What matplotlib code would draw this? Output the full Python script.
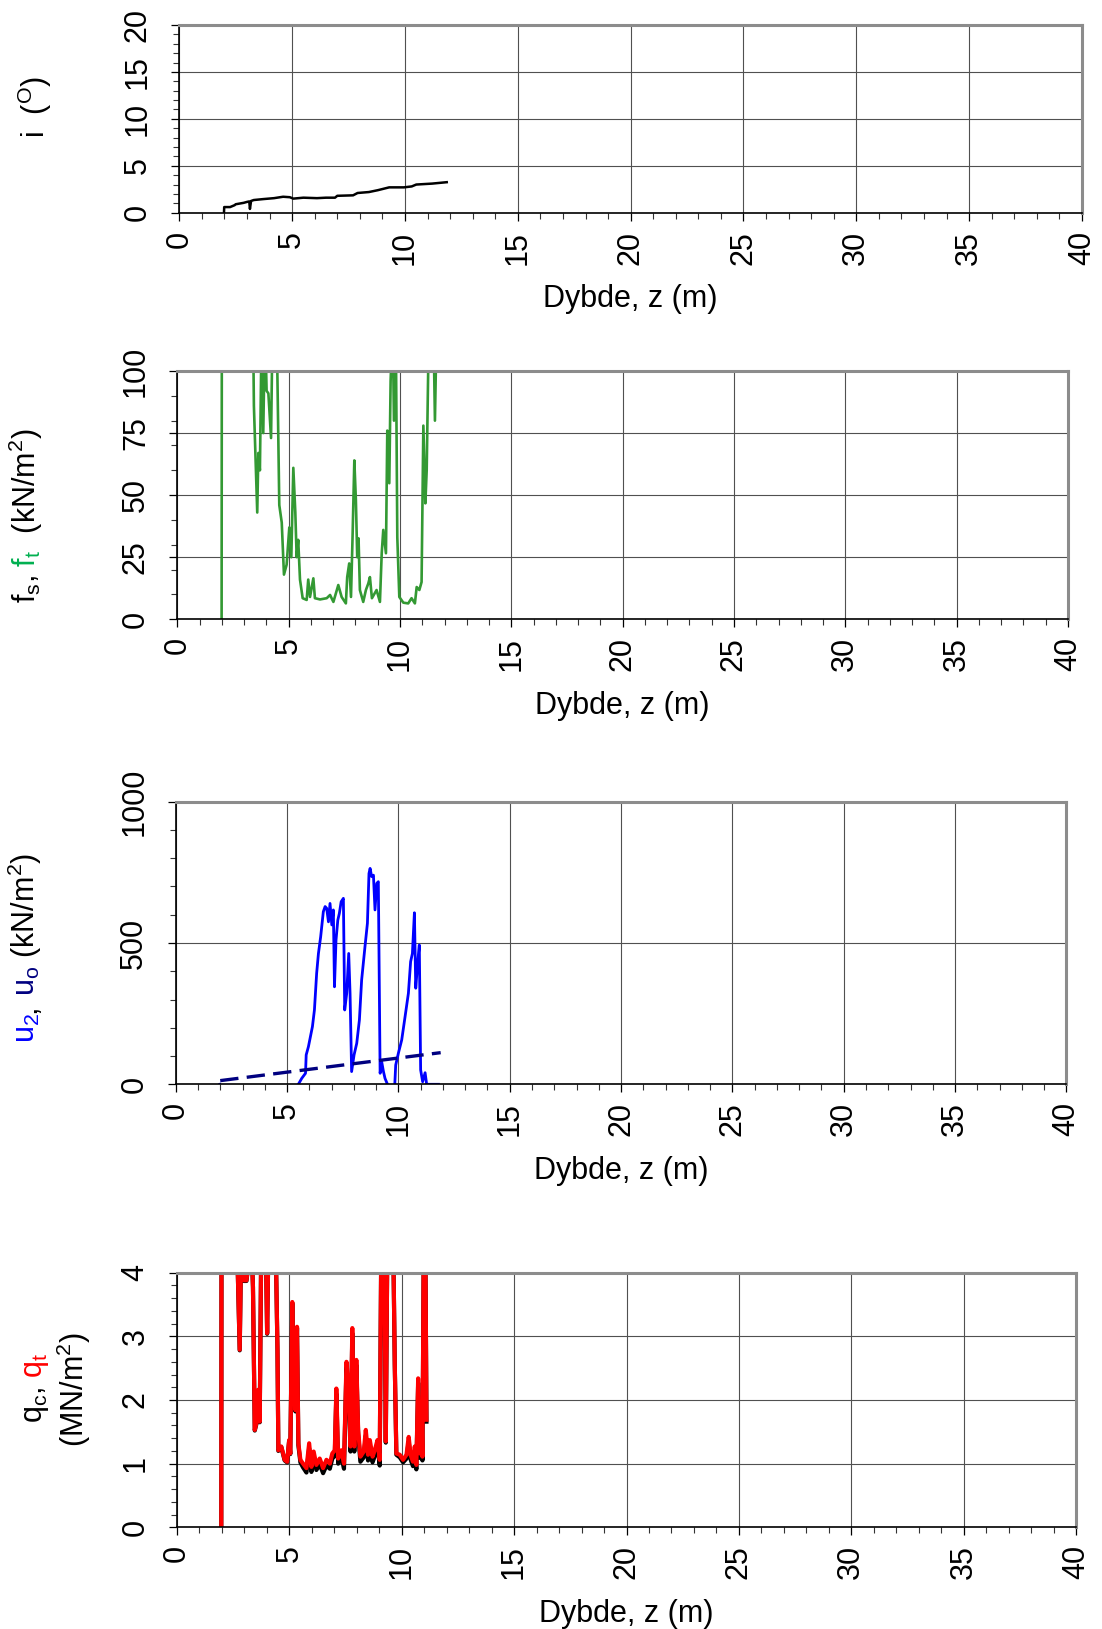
import matplotlib
matplotlib.use("Agg")
import matplotlib.pyplot as plt
from matplotlib.ticker import MultipleLocator
from matplotlib.transforms import IdentityTransform

plt.rcParams['font.family'] = ['Liberation Sans', 'DejaVu Sans']
plt.rcParams['mathtext.fontset'] = 'custom'
plt.rcParams['mathtext.rm'] = 'Liberation Sans'
plt.rcParams['mathtext.it'] = 'Liberation Sans'
plt.rcParams['mathtext.bf'] = 'Liberation Sans:bold'

# ---- sounding data (depth z in m) ----
incl_z = [1.98, 1.99, 2.25, 2.45, 2.5, 2.85, 3.0, 3.1, 3.13, 3.18, 3.3, 3.72, 4.2, 4.6, 4.9,
          5.05, 5.5, 6.1, 6.5, 6.9, 7.0, 7.7, 7.9, 8.4, 8.8, 9.3, 9.95, 10.3, 10.5, 11.2, 11.85]
incl = [0.0, 0.6, 0.6, 0.8, 0.9, 1.05, 1.15, 1.2, 0.4, 1.25, 1.35, 1.45, 1.55, 1.7, 1.65,
        1.5, 1.6, 1.55, 1.6, 1.6, 1.8, 1.85, 2.1, 2.2, 2.4, 2.7, 2.7, 2.8, 3.0, 3.1, 3.25]

fs_z = [1.99, 2.0, 3.40, 3.44, 3.59, 3.64, 3.71, 3.79, 3.86, 3.94,
        4.01, 4.09, 4.21, 4.28, 4.46, 4.58, 4.69, 4.79, 4.91, 5.03,
        5.12, 5.21, 5.30, 5.36, 5.43, 5.51, 5.63, 5.81, 5.88, 5.96,
        6.11, 6.18, 6.41, 6.71, 6.86, 7.01, 7.23, 7.38, 7.57, 7.63,
        7.72, 7.80, 7.87, 7.95, 8.02, 8.08, 8.14, 8.20, 8.35, 8.47,
        8.58, 8.65, 8.74, 8.95, 9.10, 9.18, 9.25, 9.37, 9.43, 9.52,
        9.58, 9.67, 9.73, 9.81, 9.88, 9.97, 10.15, 10.37, 10.52, 10.67,
        10.75, 10.87, 10.97, 11.05, 11.14, 11.20, 11.30, 11.50, 11.57, 11.65,
        11.80]
fs = [0, 120, 120, 86, 43, 67, 60, 120, 75, 120,
      92, 91, 73, 120, 120, 46, 39, 18, 22, 37,
      25, 61, 43, 25, 32, 16, 8.5, 7.8, 16, 9,
      16.5, 8.5, 8, 8.5, 9.8, 7, 13.8, 9, 6.4, 17,
      22.5, 9, 33, 64, 48, 25, 32.6, 11.8, 7, 11.8,
      14.5, 17, 8.5, 11.8, 7, 26.6, 36, 26.6, 76, 54.8,
      96, 120, 80, 120, 33, 9, 6.7, 6.4, 8.5, 6.4,
      13, 11.8, 15, 78, 46.7, 60, 120, 120, 80, 120,
      120]

u2_z = [1.98, 2.05, 5.40, 5.66, 5.83, 5.86, 5.96, 6.14, 6.23, 6.33,
        6.41, 6.51, 6.63, 6.71, 6.78, 6.86, 6.93, 7.01, 7.08, 7.13,
        7.20, 7.28, 7.35, 7.43, 7.53, 7.59, 7.68, 7.77, 7.83, 7.90,
        8.01, 8.13, 8.25, 8.35, 8.50, 8.61, 8.68, 8.73, 8.80, 8.88,
        8.95, 9.03, 9.10, 9.18, 9.25, 9.33, 9.40, 9.51, 9.58, 9.83,
        9.88, 10.0, 10.15, 10.30, 10.45, 10.55, 10.63, 10.72, 10.78, 10.87,
        10.94, 11.00, 11.09, 11.20, 11.27, 11.80]
u2 = [0, -15, -15, 21, 39, 104, 133, 204, 263, 393,
      463, 522, 611, 629, 623, 575, 640, 564, 617, 345,
      511, 581, 605, 646, 658, 263, 322, 463, 322, 45,
      104, 145, 228, 369, 487, 570, 746, 764, 735, 740,
      617, 711, 717, 39, 80, 45, 21, 0, -15, -15,
      68, 110, 157, 239, 322, 434, 463, 607, 340, 434,
      493, 51, 9, 41, 0, 0]

u0_z = [2.0, 11.9]
u0 = [13, 112]

q_z = [1.97, 1.98, 2.67, 2.79, 2.86, 2.98, 3.09, 3.31, 3.38, 3.46,
       3.53, 3.61, 3.68, 3.75, 3.95, 4.01, 4.07, 4.39, 4.47, 4.51,
       4.64, 4.79, 4.90, 4.99, 5.04, 5.13, 5.19, 5.27, 5.34, 5.40,
       5.49, 5.61, 5.76, 5.88, 5.98, 6.08, 6.20, 6.35, 6.50, 6.65,
       6.80, 6.91, 7.02, 7.09, 7.17, 7.31, 7.43, 7.54, 7.64, 7.72,
       7.80, 7.89, 7.98, 8.06, 8.16, 8.31, 8.40, 8.50, 8.58, 8.70,
       8.80, 8.92, 9.02, 9.09, 9.22, 9.29, 9.36, 9.62, 9.69, 9.76,
       9.91, 10.06, 10.21, 10.31, 10.39, 10.50, 10.58, 10.65, 10.73, 10.80,
       10.88, 10.92, 10.98, 11.05, 11.10]
qt = [0, 4.5, 4.5, 2.79, 4.5, 3.88, 3.88, 4.5, 3.78, 1.53,
      1.63, 2.16, 1.66, 4.5, 4.5, 3.05, 4.5, 4.5, 2.79, 1.21,
      1.27, 1.06, 1.03, 1.37, 1.16, 3.54, 2.26, 1.84, 3.15, 1.32,
      1.06, 1.0, 0.93, 1.32, 0.95, 1.19, 0.98, 1.08, 0.93, 1.06,
      1.0, 1.16, 1.21, 2.18, 1.08, 1.21, 1.0, 2.60, 2.16, 1.27,
      3.13, 1.27, 2.63, 1.53, 1.11, 1.19, 1.53, 1.14, 1.37, 1.11,
      1.21, 1.37, 1.06, 4.5, 4.5, 1.35, 4.5, 4.5, 2.55, 1.16,
      1.14, 1.06, 1.14, 1.42, 1.14, 1.03, 1.27, 0.98, 2.34, 1.16,
      1.82, 1.11, 4.5, 4.5, 1.69]
qc = [0, 4.5, 4.5, 2.78, 4.5, 3.87, 3.87, 4.5, 3.77, 1.52,
      1.62, 2.15, 1.65, 4.5, 4.5, 3.04, 4.5, 4.5, 2.78, 1.20,
      1.26, 1.05, 1.02, 1.36, 1.15, 3.52, 2.24, 1.82, 3.13, 1.29,
      1.02, 0.94, 0.86, 1.24, 0.87, 1.10, 0.90, 0.99, 0.85, 0.97,
      0.92, 1.08, 1.12, 2.10, 1.00, 1.12, 0.92, 2.52, 2.08, 1.19,
      3.05, 1.19, 2.55, 1.46, 1.03, 1.10, 1.44, 1.05, 1.28, 1.02,
      1.12, 1.28, 0.97, 4.5, 4.5, 1.33, 4.5, 4.5, 2.54, 1.14,
      1.10, 1.02, 1.08, 1.35, 1.07, 0.96, 1.19, 0.91, 2.27, 1.09,
      1.75, 1.05, 4.5, 4.5, 1.66]

W, H = 1102, 1629
FS = 22

fig = plt.figure(figsize=(W / 100, H / 100), dpi=100)


def add_panel(l, t, r, b):
    # box given in pixels from the top-left corner
    return fig.add_axes([l / W, 1 - b / H, (r - l) / W, (b - t) / H])


def style(ax, ymax, ymajor, yminor):
    ax.set_xlim(0, 40)
    ax.set_ylim(0, ymax)
    ax.xaxis.set_major_locator(MultipleLocator(5))
    ax.xaxis.set_minor_locator(MultipleLocator(1))
    ax.yaxis.set_major_locator(MultipleLocator(ymajor))
    ax.yaxis.set_minor_locator(MultipleLocator(yminor))
    ax.grid(True, which='major', color='#505050', lw=0.8)
    for side in ('left', 'bottom'):
        ax.spines[side].set_color('black')
        ax.spines[side].set_linewidth(1.2)
    for side in ('top', 'right'):
        ax.spines[side].set_color('#8c8c8c')
        ax.spines[side].set_linewidth(2.2)
    ax.tick_params(which='both', direction='out', top=False, right=False)
    ax.tick_params(which='major', length=6, width=0.9, labelsize=FS)
    ax.tick_params(which='minor', length=4.5, width=0.8, color='#333333')
    ax.tick_params(axis='x', labelrotation=90, pad=7)
    ax.tick_params(axis='y', labelrotation=90, pad=13)
    plt.setp(ax.get_yticklabels(), va='center')
    ax.set_xlabel('Dybde, z (m)', fontsize=FS, labelpad=14)


def side_label(x_px, y_px, pieces):
    # rotated label built from coloured pieces, laid end to end upward
    renderer = fig.canvas.get_renderer()
    y = H - y_px
    for s, c in pieces:
        t = fig.text(x_px, y, s, color=c, fontsize=FS, rotation=90,
                     rotation_mode='anchor', ha='left', va='baseline',
                     transform=IdentityTransform())
        y = t.get_window_extent(renderer).y1


# inclination
ax1 = add_panel(179.3, 25, 1082, 212.7)
style(ax1, 20, 5, 1)
ax1.plot(incl_z, incl, color='black', lw=1.8)

# sleeve friction
ax2 = add_panel(177.3, 371, 1068, 619.3)
style(ax2, 100, 25, 10)
ax2.plot(fs_z, fs, color='#339933', lw=1.9)

# pore pressure
ax3 = add_panel(175.7, 801.7, 1066.4, 1084.3)
style(ax3, 1000, 500, 100)
ax3.plot(u2_z, u2, color='#0000ff', lw=2.0)
ax3.plot(u0_z, u0, color='#000080', lw=2.4, dashes=(5.5, 2.5))

# cone resistance
ax4 = add_panel(177, 1272.7, 1076, 1527.3)
style(ax4, 4, 1, 0.2)
ax4.plot(q_z, qc, color='black', lw=3.0)
ax4.plot(q_z, qt, color='#ff0000', lw=3.0)

side_label(45, 138, [(r'i  ($^{\mathrm{O}}$)', 'black')])
side_label(36, 603, [(r'f$_{\mathrm{s}}$,', 'black'), (r' f$_{\mathrm{t}}$', '#00b050'),
                     (r'  (kN/m$^{2}$)', 'black')])
side_label(35, 1043, [(r'u$_{2}$', '#0000ff'), (r',', 'black'), (r' u$_{\mathrm{o}}$', '#000080'),
                      (r' (kN/m$^{2}$)', 'black')])
side_label(42, 1423, [(r'q$_{\mathrm{c}}$,', 'black'), (r' q$_{\mathrm{t}}$', '#ff0000')])
side_label(84, 1447, [(r'(MN/m$^{2}$)', 'black')])

fig.savefig('out.png', dpi=100)
